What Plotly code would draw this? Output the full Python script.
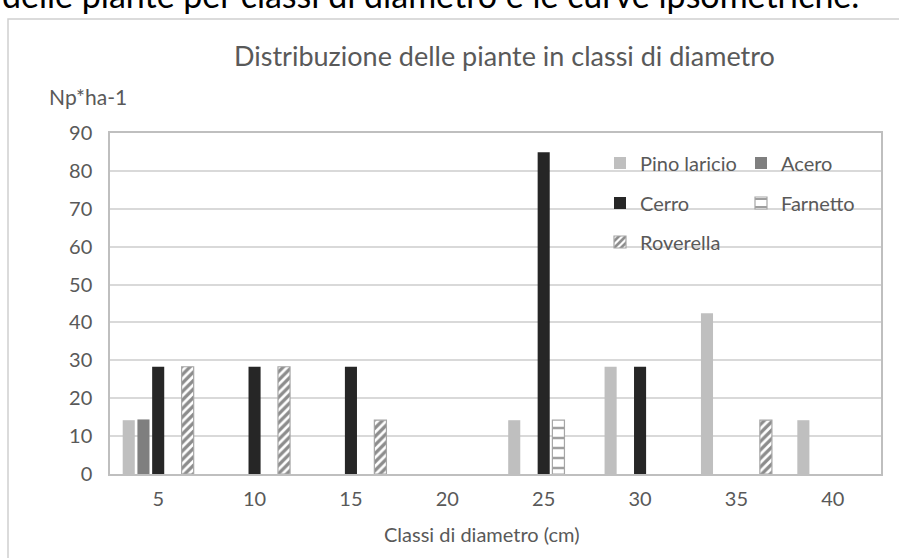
import plotly.graph_objects as go

categories = ["5", "10", "15", "20", "25", "30", "35", "40"]
pino_laricio = [14.2, None, None, None, 14.2, 28.3, 42.4, 14.2]
acero = [14.4, None, None, None, None, None, None, None]
cerro = [28.3, 28.3, 28.3, None, 84.9, 28.3, None, None]
farnetto = [None, None, None, None, 14.2, None, None, None]
roverella = [28.3, 28.3, 14.2, None, None, None, 14.2, None]

FONT = "Lato"
TXT = "#595959"
W, H = 899, 558
L, R, T, B = 110, 18, 133, 84
pw, ph = W - L - R, H - T - B

def px(x):
    return (x - L) / pw

def py(y):
    return (H - B - y) / ph

fig = go.Figure()
fig.add_trace(go.Bar(name="Pino laricio", x=categories, y=pino_laricio,
                     marker=dict(color="#bfbfbf", line=dict(width=0)), legend="legend"))
fig.add_trace(go.Bar(name="Acero", x=categories, y=acero,
                     marker=dict(color="#7f7f7f", line=dict(width=0)), legend="legend"))
fig.add_trace(go.Bar(name="Cerro", x=categories, y=cerro,
                     marker=dict(color="#262626", line=dict(width=0)), legend="legend2"))
fig.add_trace(go.Bar(name="Farnetto", x=categories, y=farnetto,
                     marker=dict(color="#ffffff", line=dict(color="#a6a6a6", width=1.2),
                                 pattern=dict(shape="-", fgcolor="#404040", bgcolor="#ffffff",
                                              size=10, solidity=0.25)),
                     legend="legend2"))
fig.add_trace(go.Bar(name="Roverella", x=categories, y=roverella,
                     marker=dict(color="#ffffff", line=dict(color="#a6a6a6", width=1.2),
                                 pattern=dict(shape="/", fgcolor="#1a1a1a", bgcolor="#ffffff",
                                              size=6, solidity=0.55)),
                     legend="legend3"))

leg_common = dict(orientation="h", xanchor="left", yanchor="middle",
                  font=dict(family=FONT, size=20, color=TXT),
                  bgcolor="rgba(0,0,0,0)", entrywidth=96, entrywidthmode="pixels",
                  tracegroupgap=0, itemclick=False)

fig.update_layout(
    width=W, height=H,
    margin=dict(l=L, r=R, t=T, b=B, pad=0),
    paper_bgcolor="#ffffff", plot_bgcolor="#ffffff",
    barmode="group", bargap=0.236, bargroupgap=0.18,
    font=dict(family=FONT, color=TXT),
    showlegend=True,
    legend=dict(x=px(600), y=py(163), **leg_common),
    legend2=dict(x=px(600), y=py(203), **leg_common),
    legend3=dict(x=px(600), y=py(242), **leg_common),
    xaxis=dict(type="category", categoryorder="array", categoryarray=categories,
               tickfont=dict(family=FONT, size=20, color=TXT),
               showline=True, mirror=True, linecolor="#bfbfbf", linewidth=1.5,
               ticks="", showgrid=False, ticklabelstandoff=6),
    yaxis=dict(range=[0, 90], dtick=10, tick0=0,
               tickfont=dict(family=FONT, size=20, color=TXT),
               showline=True, mirror=True, linecolor="#bfbfbf", linewidth=1.5,
               gridcolor="#d9d9d9", gridwidth=1.5, zeroline=False, ticks="",
               ticklabelstandoff=12),
    annotations=[
        dict(text="Distribuzione delle piante in classi di diametro", xref="paper", yref="paper",
             x=px(505), y=py(56), xanchor="center", yanchor="middle", showarrow=False,
             font=dict(family=FONT, size=27, color=TXT)),
        dict(text="Np*ha-1", xref="paper", yref="paper",
             x=px(47), y=py(96), xanchor="left", yanchor="middle", showarrow=False,
             font=dict(family=FONT, size=21, color=TXT)),
        dict(text="Classi di diametro (cm)", xref="paper", yref="paper",
             x=px(482), y=py(534), xanchor="center", yanchor="middle", showarrow=False,
             font=dict(family=FONT, size=20, color=TXT)),
        dict(text="delle piante per classi di diametro e le curve ipsometriche.",
             xref="paper", yref="paper", x=px(0), y=py(-5), xanchor="left", yanchor="middle",
             showarrow=False, font=dict(family=FONT, size=34, color="#000000")),
    ],
    shapes=[
        dict(type="rect", xref="paper", yref="paper", x0=px(8), y0=py(600), x1=px(950), y1=py(19),
             line=dict(color="#d0d0d0", width=1.5), fillcolor="rgba(0,0,0,0)", layer="below"),
    ],
)

fig.write_html("out.html", config={"displayModeBar": False},
               post_script="document.body.style.margin='0';document.body.style.overflow='hidden';")
